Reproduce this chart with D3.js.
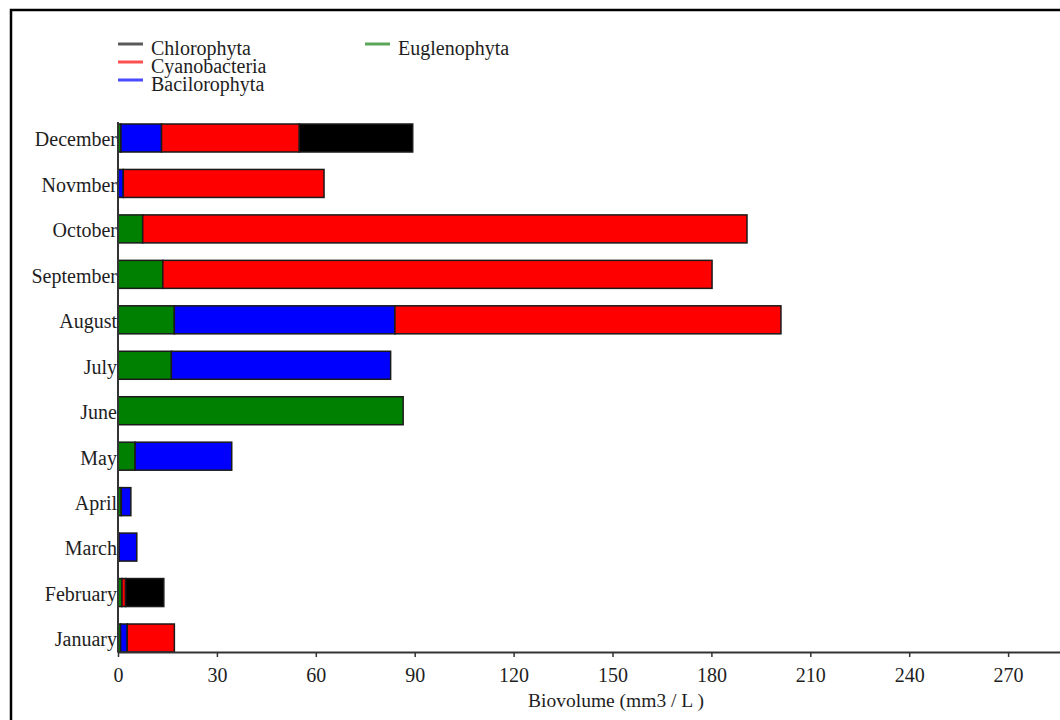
<!DOCTYPE html>
<html>
<head>
<meta charset="utf-8">
<script src="https://cdn.jsdelivr.net/npm/d3@7"></script>
<style>
  html, body { margin: 0; padding: 0; background: #fff; }
  svg { display: block; }
  text { font-family: "Liberation Serif", "Times New Roman", serif; fill: #1e1e1e; }
</style>
</head>
<body>
<svg id="chart" width="1060" height="720"></svg>
<script>
// Monthly phytoplankton biovolume (mm3 / L) by group
const months = ["January", "February", "March", "April", "May", "June",
                "July", "August", "September", "October", "Novmber", "December"];
const euglenophyta  = [0.8, 1.2, 0.3, 1.0, 5.2, 86.5, 16.2, 17.1, 13.6, 7.5, 0, 0.9];
const bacilorophyta = [2.0, 0, 5.4, 2.9, 29.3, 0, 66.5, 66.9, 0, 0, 1.6, 12.3];
const cyanobacteria = [14.3, 1.1, 0, 0, 0, 0, 0, 117.1, 166.6, 183.3, 60.9, 41.8];
const chlorophyta   = [0, 11.6, 0, 0, 0, 0, 0, 0, 0, 0, 0, 34.4];
const xTicks = [0, 30, 60, 90, 120, 150, 180, 210, 240, 270];

const groups = [
  { key: "Euglenophyta",  values: euglenophyta,  fill: "#008000", legend: "#5aa65a" },
  { key: "Bacilorophyta", values: bacilorophyta, fill: "#0000ff", legend: "#4a4aff" },
  { key: "Cyanobacteria", values: cyanobacteria, fill: "#ff0000", legend: "#ff5050" },
  { key: "Chlorophyta",   values: chlorophyta,   fill: "#000000", legend: "#5a5a5a" }
];

const rows = months.map((m, i) => {
  const r = { month: m };
  groups.forEach(g => { r[g.key] = g.values[i]; });
  return r;
});

const svg = d3.select("#chart");

// outer frame
svg.append("rect")
  .attr("x", 11).attr("y", 10)
  .attr("width", 1100).attr("height", 760)
  .attr("fill", "none").attr("stroke", "#000").attr("stroke-width", 2.5);

const x = d3.scaleLinear().domain([0, 300]).range([118, 1107]);
const y = d3.scaleBand()
  .domain(months.slice().reverse())
  .range([124, 652])
  .paddingInner(0.384)
  .paddingOuter(0);

const stack = d3.stack().keys(groups.map(g => g.key));
const series = stack(rows);
const fillOf = Object.fromEntries(groups.map(g => [g.key, g.fill]));

// stacked bars
svg.append("g").selectAll("g")
  .data(series)
  .join("g")
  .attr("fill", d => fillOf[d.key])
  .selectAll("rect")
  .data(d => d.filter(s => s[1] - s[0] > 0))
  .join("rect")
  .attr("x", d => x(d[0]))
  .attr("y", d => y(d.data.month))
  .attr("width", d => x(d[1]) - x(d[0]))
  .attr("height", y.bandwidth())
  .attr("stroke", "#1a1a1a")
  .attr("stroke-width", 1.5);

// x axis
const xAxis = svg.append("g")
  .attr("transform", "translate(0,652)")
  .call(d3.axisBottom(x).tickValues(xTicks).tickSize(5).tickPadding(11).tickSizeOuter(0));
xAxis.select(".domain").attr("stroke", "#333").attr("stroke-width", 2);
xAxis.selectAll(".tick line").attr("stroke", "#333").attr("stroke-width", 1.5);
xAxis.selectAll(".tick text")
  .style("font-family", "'Liberation Serif', serif")
  .style("font-size", "20px").attr("fill", "#1e1e1e");

// y axis
const yAxis = svg.append("g")
  .attr("transform", "translate(118,0)")
  .call(d3.axisLeft(y).tickSize(0).tickPadding(1).tickSizeOuter(0));
yAxis.select(".domain").attr("stroke", "#333").attr("stroke-width", 2)
  .attr("d", "M0,122V652");
yAxis.selectAll(".tick text")
  .attr("dy", "0.42em")
  .style("font-family", "'Liberation Serif', serif")
  .style("font-size", "20px").attr("fill", "#1e1e1e");

// axis title
svg.append("text")
  .attr("x", 616).attr("y", 707)
  .attr("text-anchor", "middle")
  .style("font-size", "19.5px")
  .text("Biovolume (mm3 / L )");

// legend
const legendItems = [
  { key: "Chlorophyta",   lx: 118, ly: 44 },
  { key: "Cyanobacteria", lx: 118, ly: 62 },
  { key: "Bacilorophyta", lx: 118, ly: 80 },
  { key: "Euglenophyta",  lx: 365, ly: 44 }
];
const legendColor = Object.fromEntries(groups.map(g => [g.key, g.legend]));
const legend = svg.append("g");
legendItems.forEach(it => {
  legend.append("line")
    .attr("x1", it.lx).attr("x2", it.lx + 25)
    .attr("y1", it.ly).attr("y2", it.ly)
    .attr("stroke", legendColor[it.key]).attr("stroke-width", 3);
  legend.append("text")
    .attr("x", it.lx + 33).attr("y", it.ly + 11)
    .style("font-size", "20px")
    .text(it.key);
});
</script>
</body>
</html>
